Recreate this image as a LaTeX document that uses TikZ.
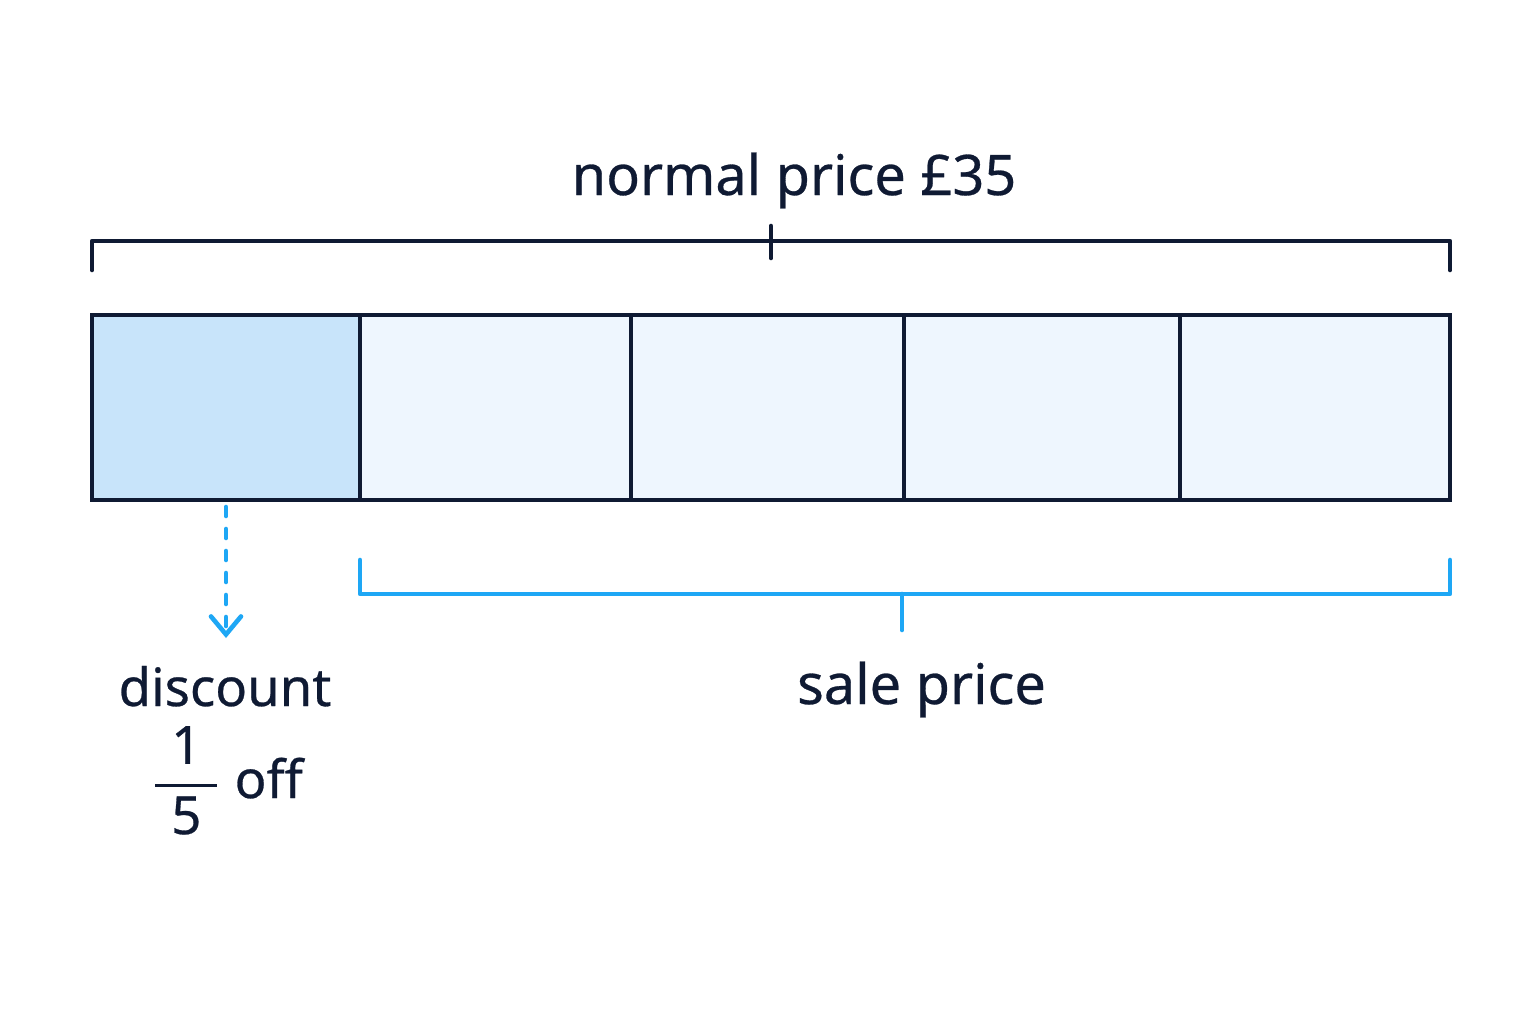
\documentclass[tikz,border=0pt]{standalone}
\usepackage{amsmath}
\usepackage{fontspec}
\setmainfont{Noto Sans}[FakeBold=0.5]
\usetikzlibrary{positioning,arrows.meta}
\definecolor{navy}{HTML}{0F1A33}
\definecolor{skyline}{HTML}{1EA7F5}
\definecolor{partfill}{HTML}{C8E4FA}
\definecolor{restfill}{HTML}{EEF6FE}
\tikzset{>=latex}
\tikzset{
  cell/.style={draw=navy, fill=restfill, line width=1.35pt,
    minimum height=1.85cm, inner sep=0pt, outer sep=0pt},
  brace/.style={line width=1.3pt, line cap=round, line join=round},
  lbl/.style={text=navy, font=\fontsize{15.9}{19}\selectfont, inner sep=0pt}
}

\begin{document}
\begin{tikzpicture}

  \useasboundingbox[fill=white] (0,0) rectangle (15.36,-10.24);

  % the bar, in fifths
  \node[cell, fill=partfill, minimum width=2.68cm, anchor=north west] (c1) at (0.92,-3.15) {};
  \foreach \i/\w [count=\j from 1] in {2/2.71,3/2.73,4/2.76,5/2.70}
    \node[cell, minimum width=\w cm, right=0pt of c\j] (c\i) {};

  % normal price bracket
  \node[coordinate] (np_l) at ([yshift=4.5mm]c1.north west) {};
  \node[coordinate] (np_lt) at ([yshift=7.4mm]c1.north west) {};
  \node[coordinate] (np_rt) at ([yshift=7.4mm]c5.north east) {};
  \node[coordinate] (np_r) at ([yshift=4.5mm]c5.north east) {};
  \node[coordinate] (np_tick_a) at (7.71,-2.26) {};
  \node[coordinate] (np_tick_b) at (7.71,-2.58) {};

  \draw[brace, navy] (np_l) -- (np_lt) -- (np_rt) -- (np_r);
  \draw[brace, navy] (np_tick_a) -- (np_tick_b);

  % sale price bracket
  \node[coordinate] (sp_l) at ([yshift=-6mm]c2.south west) {};
  \node[coordinate] (sp_lb) at ([yshift=-9.4mm]c2.south west) {};
  \node[coordinate] (sp_rb) at ([yshift=-9.4mm]c5.south east) {};
  \node[coordinate] (sp_r) at ([yshift=-6mm]c5.south east) {};
  \node[coordinate] (sp_tick_a) at (9.02,-5.94) {};
  \node[coordinate] (sp_tick_b) at (9.02,-6.30) {};

  \draw[brace, skyline] (sp_l) -- (sp_lb) -- (sp_rb) -- (sp_r);
  \draw[brace, skyline] (sp_tick_a) -- (sp_tick_b);

  % discount arrow
  \node[coordinate] (dc_end) at ([yshift=-13.8mm]c1.south) {};
  \draw[skyline, line width=1.3pt, line cap=round, dashed, dash pattern=on 0.9mm off 1.3mm,
    -{Straight Barb[length=1.8mm, width=3mm, line cap=round]}]
    ([yshift=-0.7mm]c1.south) -- (dc_end);

  \node[lbl, anchor=base] (np_text) at (7.94,-1.95) {normal price £35};
  \node[lbl, anchor=base, font=\fontsize{15}{18}\selectfont] (dc_text) at (2.25,-7.06) {discount};
  \node[lbl, anchor=base, font=\fontsize{15}{18}\selectfont] (dc_frac) at (2.27,-7.98)
    {$\genfrac{}{}{0.9pt}{0}{\text{\hspace{0.3em}1\hspace{0.3em}}}{\text{5}}$\hspace{0.25em}off};
  \node[lbl, anchor=base] (sp_text) at (9.215,-7.04) {sale price};

\end{tikzpicture}
\end{document}
